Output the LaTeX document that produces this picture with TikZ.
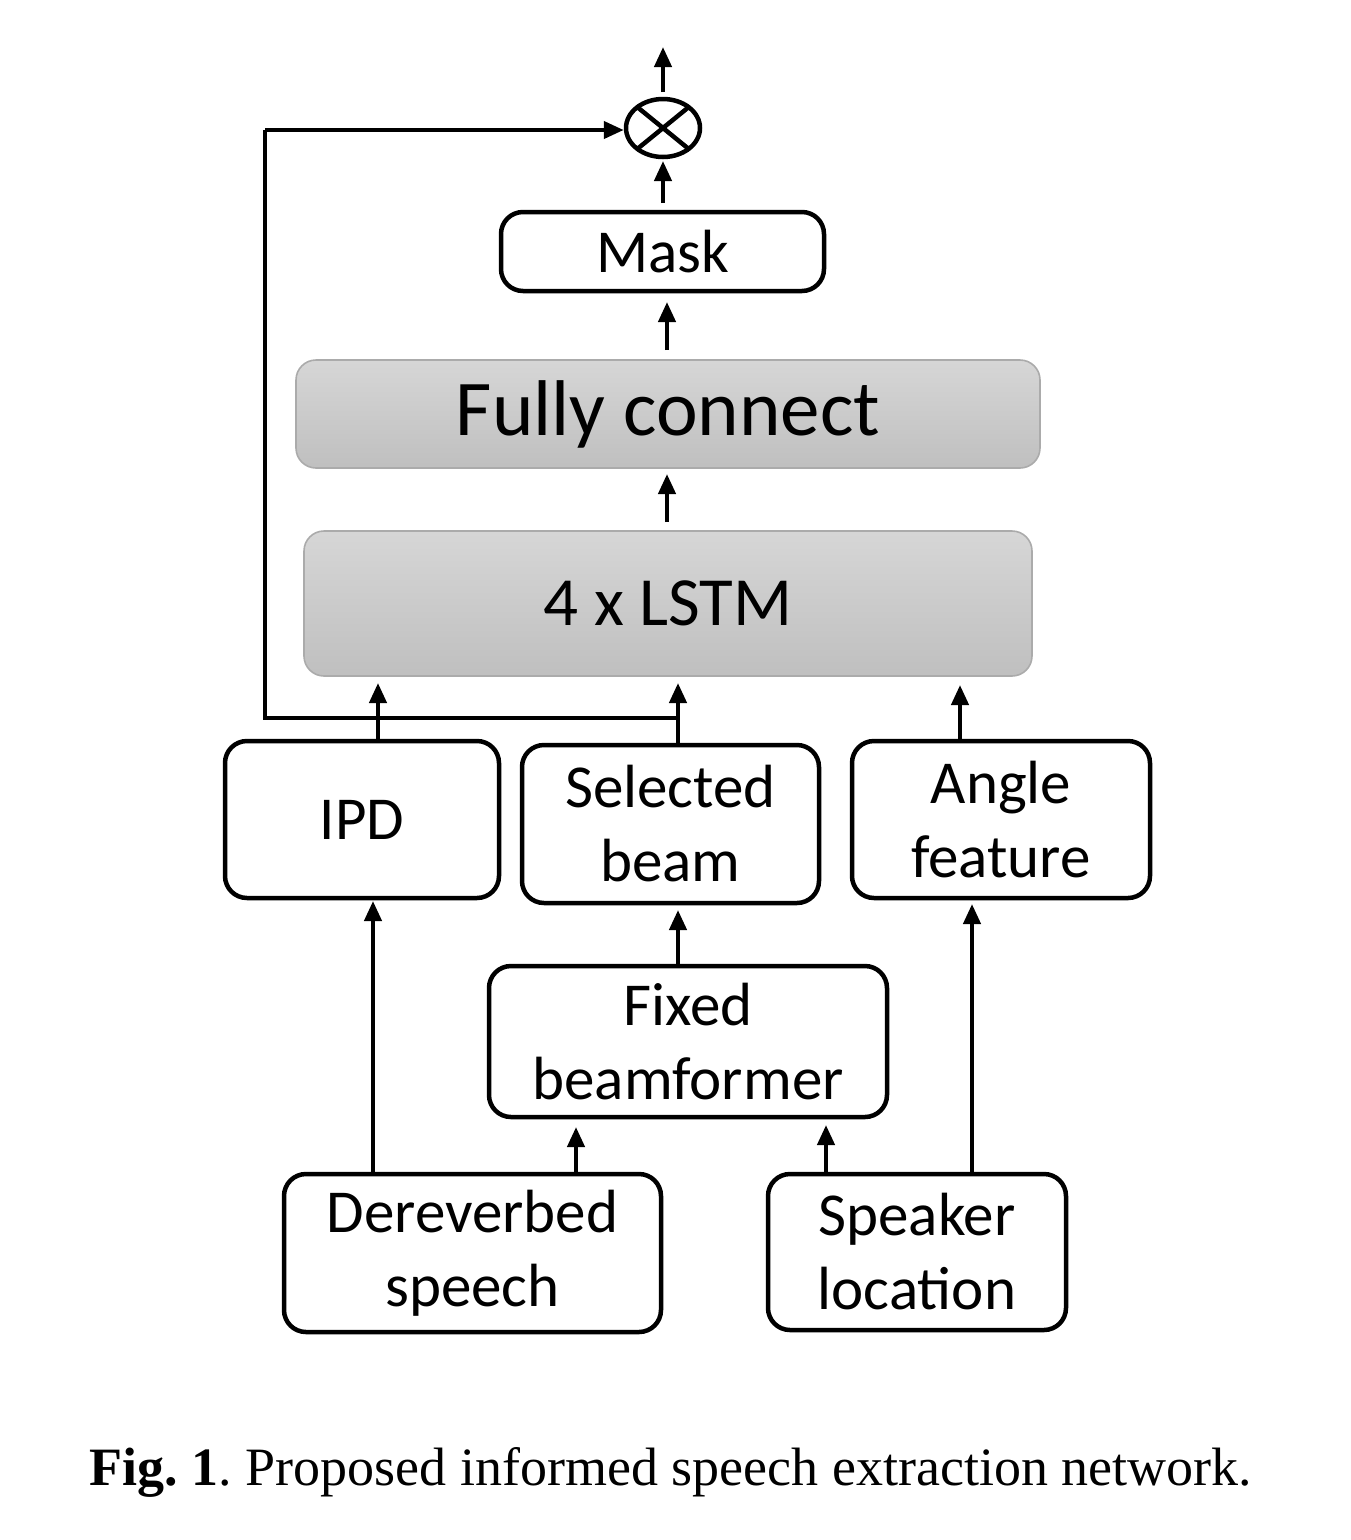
\documentclass[tikz,border=0pt]{standalone}
\usepackage{fontspec}
\setmainfont{Liberation Serif}
\newfontfamily\boxfont{Carlito}
\usetikzlibrary{arrows.meta,shapes.geometric,calc}
\begin{document}
\begin{tikzpicture}[x=1pt,y=1pt,
  box/.style={draw, line width=4.5pt, rounded corners=22pt, align=center,
    font=\boxfont\fontsize{61}{74}\selectfont, inner sep=0pt},
  graybox/.style={draw=black!33, line width=1.6pt, rounded corners=20pt,
    top color=black!16, bottom color=black!25, align=center, inner sep=0pt},
  arr/.style={line width=4.2pt, -{Triangle[length=20pt,width=17pt]}},
  wire/.style={line width=4.2pt}
]
\useasboundingbox (0,0) rectangle (1350,-1540);
% nodes
\node[draw, ellipse, line width=4.5pt, minimum width=74pt, minimum height=58pt, inner sep=0pt] (mul) at (663,-128) {};
\draw[line width=4.5pt] ($(mul.center)+(-27,-22)$) -- ($(mul.center)+(27,22)$)
                      ($(mul.center)+(-27,22)$) -- ($(mul.center)+(27,-22)$);
\node[box, minimum width=323pt, minimum height=79pt] (mask) at (662.5,-251.5) {Mask};
\node[graybox, minimum width=744pt, minimum height=108pt, font=\boxfont\fontsize{79}{90}\selectfont] (fc) at (668,-414) {Fully connect};
\node[graybox, minimum width=728pt, minimum height=145pt, font=\boxfont\fontsize{69}{80}\selectfont] (lstm) at (668,-603.5) {4 x LSTM};
\node[box, minimum width=274pt, minimum height=157pt] (ipd) at (362,-819.5) {IPD};
\node[box, minimum width=297pt, minimum height=158pt] (sel) at (670.5,-824) {Selected\\beam};
\node[box, minimum width=298pt, minimum height=157pt] (ang) at (1001,-819.5) {Angle\\feature};
\node[box, minimum width=398pt, minimum height=151pt] (fbf) at (688,-1041.5) {Fixed\\beamformer};
\node[box, minimum width=377pt, minimum height=158pt] (der) at (472.5,-1253) {Dereverbed\\speech};
\node[box, minimum width=298pt, minimum height=156pt] (spk) at (917,-1252) {Speaker\\location};
% coordinates
\coordinate (outtop) at (663,-47);
\coordinate (mulout) at (663,-92);
\coordinate (maskout) at (663,-203);
\coordinate (fcout) at (667,-350);
\coordinate (lstmout) at (667,-522);
\coordinate (ipdout) at (378,-739);
\coordinate (selout) at (678,-743);
\coordinate (angout) at (960,-739);
\coordinate (fbfout) at (678,-964);
\coordinate (derA) at (373,-1172);
\coordinate (derB) at (576,-1172);
\coordinate (spkA) at (826,-1172);
\coordinate (spkB) at (972,-1172);
\coordinate (fbA) at (688,-718);
\coordinate (loopL) at (265,-718);
\coordinate (loopT) at (265,-130);
% arrows
\draw[arr] (mulout) -- (outtop);
\draw[arr] (maskout) -- (maskout |- 0,-161);
\draw[arr] (fcout) -- (fcout |- 0,-302);
\draw[arr] (lstmout) -- (lstmout |- 0,-474);
\draw[arr] (ipdout) -- (ipdout |- 0,-683);
\draw[arr] (selout) -- (selout |- 0,-683);
\draw[arr] (angout) -- (angout |- 0,-685);
\draw[wire] (selout |- fbA) -- (loopL) -- (loopT);
\draw[arr] (loopT) -- (loopT -| mul.west);
\draw[arr] (fbfout) -- (fbfout |- 0,-910);
\draw[arr] (derA) -- (derA |- 0,-901);
\draw[arr] (derB) -- (derB |- 0,-1127);
\draw[arr] (spkA) -- (spkA |- 0,-1125);
\draw[arr] (spkB) -- (spkB |- 0,-904);
% caption
\node[anchor=base, font=\fontsize{54}{60}\selectfont\frenchspacing, inner sep=0pt] (cap) at (671,-1485)
  {\textbf{Fig. 1}. Proposed informed speech extraction network.};
\end{tikzpicture}
\end{document}
